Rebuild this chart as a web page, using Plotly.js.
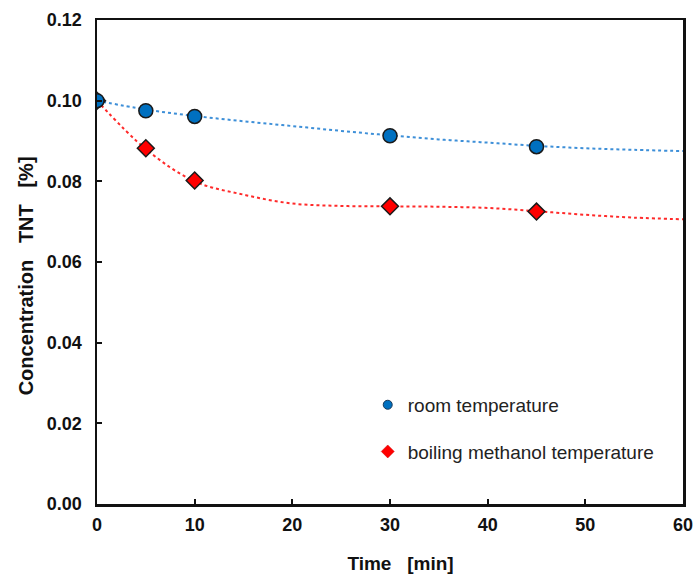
<!DOCTYPE html>
<html>
<head>
<meta charset="utf-8">
<script src="https://cdn.plot.ly/plotly-3.0.1.min.js"></script>
<style>html,body{margin:0;padding:0;background:#fff;}#chart{width:694px;height:576px;}</style>
</head>
<body>
<div id="chart"></div>
<script>
var timeMin = [0, 5, 10, 30, 45];
var roomTemp = [0.1000, 0.0975, 0.0961, 0.0913, 0.0886];
var boilingTemp = [0.1000, 0.0882, 0.0802, 0.0738, 0.0725];

var trendTime = [0, 5, 10, 15, 20, 25, 30, 35, 40, 45, 50, 55, 60];
var roomTrend = [0.1000, 0.0978, 0.0962, 0.0949, 0.0937, 0.0925, 0.0914, 0.0904, 0.0896, 0.0888, 0.0882, 0.0878, 0.0875];
var boilingTrend = [0.1000, 0.0880, 0.0800, 0.0767, 0.0745, 0.0739, 0.0738, 0.0737, 0.0734, 0.0726, 0.0717, 0.0710, 0.0706];

var seriesNames = ['room temperature', 'boiling methanol temperature'];
var xTicks = [0, 10, 20, 30, 40, 50, 60];
var yTicks = [0, 0.02, 0.04, 0.06, 0.08, 0.10, 0.12];
var yTickText = ['0.00', '0.02', '0.04', '0.06', '0.08', '0.10', '0.12'];

var FONT = 'Liberation Sans, Arial, sans-serif';
var NB = '\u00A0';
function sp(n) { return new Array(n + 1).join(NB); }

var traces = [
  {x: trendTime, y: roomTrend, mode: 'lines', line: {color: '#3d8fd8', dash: 'dot', width: 2, shape: 'spline'}, showlegend: false, hoverinfo: 'skip'},
  {x: trendTime, y: boilingTrend, mode: 'lines', line: {color: '#ff2a2a', dash: 'dot', width: 2, shape: 'spline'}, showlegend: false, hoverinfo: 'skip'},
  {x: timeMin, y: boilingTemp, mode: 'markers', showlegend: false, marker: {symbol: 'diamond', size: 13, color: '#FF0000', line: {color: '#1a1a1a', width: 1.5}}},
  {x: timeMin, y: roomTemp, mode: 'markers', showlegend: false, marker: {symbol: 'circle', size: 14, color: '#0070C0', line: {color: '#1a1a1a', width: 1.5}}},
  {x: [null], y: [null], mode: 'markers', name: seriesNames[0], legendgroup: 'a', marker: {symbol: 'circle', size: 9, color: '#0070C0', line: {color: '#1a3a5a', width: 1}}},
  {x: [null], y: [null], mode: 'markers', name: seriesNames[1], legendgroup: 'b', marker: {symbol: 'diamond', size: 10, color: '#FF0000', line: {color: '#cc0000', width: 0.5}}}
];

var layout = {
  width: 694, height: 576,
  margin: {l: 97, r: 11, t: 20, b: 72},
  paper_bgcolor: '#fff', plot_bgcolor: '#fff',
  font: {family: FONT, color: '#111'},
  showlegend: true,
  legend: {x: 0.462, y: 0.244, xanchor: 'left', yanchor: 'top', bgcolor: 'rgba(0,0,0,0)', borderwidth: 0,
           font: {size: 19, color: '#222', family: FONT}, traceorder: 'grouped', tracegroupgap: 19, itemwidth: 30},
  xaxis: {
    range: [0, 60], tickvals: xTicks, ticktext: xTicks.map(String),
    showgrid: false, zeroline: false, showline: true, linecolor: '#111', linewidth: 2.5, mirror: true,
    ticks: 'inside', ticklen: 5, tickwidth: 2, tickcolor: '#111', ticklabelstandoff: 3,
    tickfont: {size: 18, family: FONT, weight: 'bold', color: '#111'},
    title: {text: '<b>' + sp(4) + 'Time' + sp(3) + '[min]</b>', font: {size: 19, color: '#111'}, standoff: 23}
  },
  yaxis: {
    range: [0, 0.12], tickvals: yTicks, ticktext: yTickText,
    showgrid: false, zeroline: false, showline: true, linecolor: '#111', linewidth: 2.5, mirror: true,
    ticks: 'inside', ticklen: 5, tickwidth: 2, tickcolor: '#111', ticklabelstandoff: 9,
    tickfont: {size: 18, family: FONT, weight: 'bold', color: '#111'},
    title: {text: '<b>Concentration' + sp(3) + 'TNT' + sp(3) + '[%]' + sp(5) + '</b>', font: {size: 20, color: '#111'}, standoff: 8}
  }
};

Plotly.newPlot('chart', traces, layout, {displayModeBar: false, staticPlot: true});
</script>
</body>
</html>
